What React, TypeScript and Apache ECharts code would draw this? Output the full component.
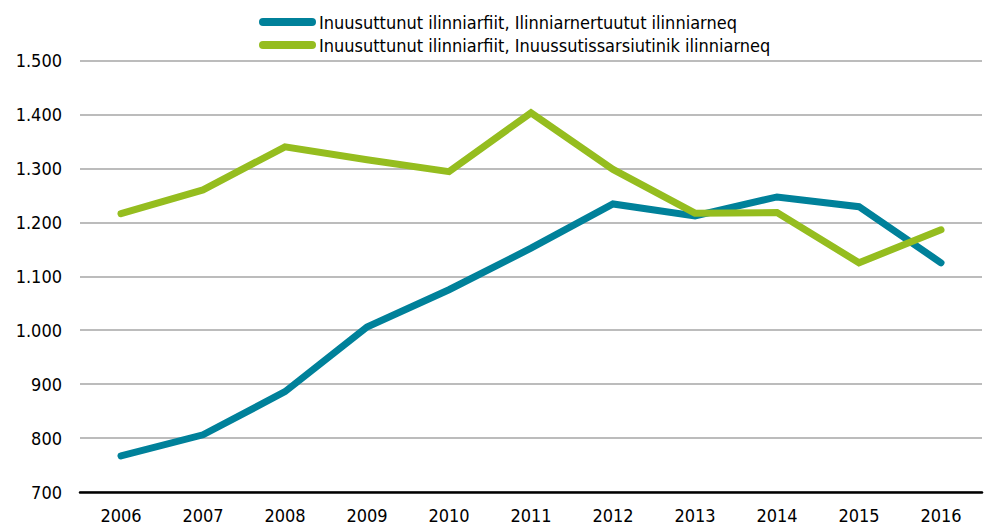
import React, { useEffect, useRef } from "react";
import * as echarts from "echarts";

const years = ["2006", "2007", "2008", "2009", "2010", "2011", "2012", "2013", "2014", "2015", "2016"];
const seriesNames = [
  "Inuusuttunut ilinniarfiit, Ilinniarnertuutut ilinniarneq",
  "Inuusuttunut ilinniarfiit, Inuussutissarsiutinik ilinniarneq",
];
const tealValues = [767, 806, 886, 1006, 1075, 1152, 1234, 1212, 1247, 1229, 1125];
const greenValues = [1216, 1260, 1340, 1316, 1294, 1403, 1298, 1217, 1218, 1125, 1186];
const colors = ["#00819A", "#95BD1F"];

const FONT = "'Liberation Sans Narrow', 'DejaVu Sans Condensed', 'Roboto Condensed', sans-serif";

function fmt(v: number) {
  return String(v).replace(/\B(?=(\d{3})+(?!\d))/g, ".");
}

export default function App() {
  const ref = useRef<HTMLDivElement>(null);
  useEffect(() => {
    const chart = echarts.init(ref.current!, null, { renderer: "svg" });
    chart.setOption({
      animation: false,
      textStyle: { fontFamily: FONT },
      legend: {
        orient: "vertical",
        left: 254,
        top: 8,
        itemWidth: 57,
        itemHeight: 8,
        itemGap: 5,
        icon: "path://M4,0 L53,0 A4,4 0 0 1 53,8 L4,8 A4,4 0 0 1 4,0 Z",
        textStyle: { fontFamily: FONT, fontSize: 18, color: "#000", padding: [0, 0, 0, -2] },
        data: seriesNames,
      },
      grid: { left: 80, right: 7, top: 60.5, bottom: 36, containLabel: false },
      xAxis: {
        type: "category",
        data: years,
        boundaryGap: true,
        axisLine: { show: true, lineStyle: { color: "#000", width: 2.5 } },
        axisTick: { show: false },
        axisLabel: { color: "#000", fontSize: 18, fontFamily: FONT, margin: 14 },
      },
      yAxis: {
        type: "value",
        min: 700,
        max: 1500,
        interval: 100,
        axisLine: { show: false },
        axisTick: { show: false },
        splitLine: { lineStyle: { color: "#A6A6A6", width: 1.5 } },
        axisLabel: {
          color: "#000",
          fontSize: 18,
          fontFamily: FONT,
          margin: 18,
          formatter: (v: number) => fmt(v),
        },
      },
      series: [
        {
          name: seriesNames[0],
          type: "line",
          data: tealValues,
          symbol: "none",
          color: colors[0],
          lineStyle: { width: 7, color: colors[0], cap: "round", join: "miter" },
        },
        {
          name: seriesNames[1],
          type: "line",
          data: greenValues,
          symbol: "none",
          color: colors[1],
          lineStyle: { width: 7, color: colors[1], cap: "round", join: "miter" },
        },
      ],
    });
    return () => chart.dispose();
  }, []);
  return <div ref={ref} style={{ width: 989, height: 528, position: "absolute", left: 0, top: 0 }} />;
}
